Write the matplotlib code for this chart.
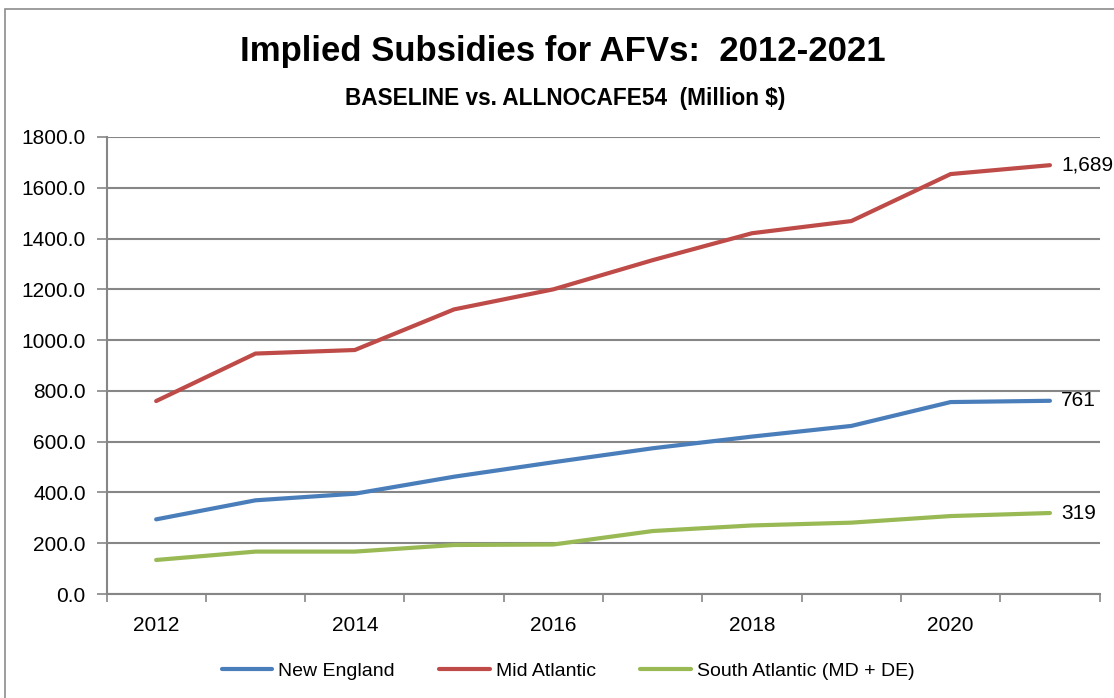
import matplotlib
matplotlib.use("Agg")
import matplotlib.pyplot as plt
from matplotlib.patches import Rectangle
from matplotlib.ticker import FixedLocator, FormatStrFormatter

# data
years = [2012, 2013, 2014, 2015, 2016, 2017, 2018, 2019, 2020, 2021]
new_england = [294, 369, 395, 462, 519, 574, 620, 662, 756, 761]
mid_atlantic = [760, 947, 961, 1121, 1200, 1315, 1421, 1469, 1654, 1689]
south_atlantic = [134, 167, 167, 193, 195, 248, 270, 281, 307, 319]
series_names = ['New England', 'Mid Atlantic', 'South Atlantic (MD + DE)']
end_labels = ['761', '1,689', '319']
year_labels = ['2012', '2014', '2016', '2018', '2020']

colors = ['#4A7EBB', '#BE4B48', '#98B954']
grid_color = '#868686'

plt.rcParams['font.family'] = ['Liberation Sans', 'DejaVu Sans']

W, H = 1114, 698
fig = plt.figure(figsize=(W / 100, H / 100), dpi=100)

# outer chart frame (Excel style), right/bottom edges fall outside the image
fig.patches.append(Rectangle((5 / W, -0.05), 1.2, 1 - 9 / H + 0.05,
                             transform=fig.transFigure, fill=False,
                             edgecolor='#8c8c8c', linewidth=1.2))

ax = fig.add_axes([106.5 / W, 1 - 594 / H, (1099.6 - 106.5) / W, (594 - 137) / H])

x = list(range(len(years)))
all_series = [new_england, mid_atlantic, south_atlantic]
for vals, name, c in zip(all_series, series_names, colors):
    ax.plot(x, vals, color=c, linewidth=3.0, solid_capstyle='round',
            solid_joinstyle='miter', label=name)

# value labels at the line ends
for vals, lab in zip(all_series, end_labels):
    ax.annotate(lab, xy=(x[-1], vals[-1]), xytext=(8, 0), textcoords='offset points',
                va='center', ha='left', fontsize=15, color='black')

ax.set_xlim(-0.5, len(years) - 0.5)
ax.set_ylim(0, 1800)
ax.yaxis.set_major_locator(FixedLocator(range(0, 1801, 200)))
ax.yaxis.set_major_formatter(FormatStrFormatter('%.1f'))
ax.grid(axis='y', color=grid_color, linewidth=1.5)
ax.set_axisbelow(True)

ax.set_xticks([years.index(int(y)) for y in year_labels])
ax.set_xticklabels(year_labels)
ax.set_xticks([i - 0.5 for i in range(len(years) + 1)], minor=True)
ax.tick_params(axis='x', which='major', length=0, pad=16, labelsize=15)
ax.tick_params(axis='x', which='minor', length=6, width=1.2, color=grid_color)
ax.tick_params(axis='y', which='major', length=7, width=1.2, color=grid_color,
               labelsize=15, pad=8)

for s in ['top', 'right']:
    ax.spines[s].set_visible(False)
for s in ['left', 'bottom']:
    ax.spines[s].set_color(grid_color)
    ax.spines[s].set_linewidth(1.5)

fig.text(563 / W, 1 - 52 / H, 'Implied Subsidies for AFVs:  2012-2021',
         ha='center', va='center', fontsize=25, fontweight='bold')
fig.text(565 / W, 1 - 98 / H, 'BASELINE vs. ALLNOCAFE54  (Million $)',
         ha='center', va='center', fontsize=16.3, fontweight='bold')

fig.legend(loc='center', bbox_to_anchor=(568 / W, 1 - 671 / H), ncol=3,
           frameon=False, fontsize=14, handlelength=2.6, handletextpad=0.3,
           columnspacing=2.3)

fig.savefig('out.png', dpi=100)
